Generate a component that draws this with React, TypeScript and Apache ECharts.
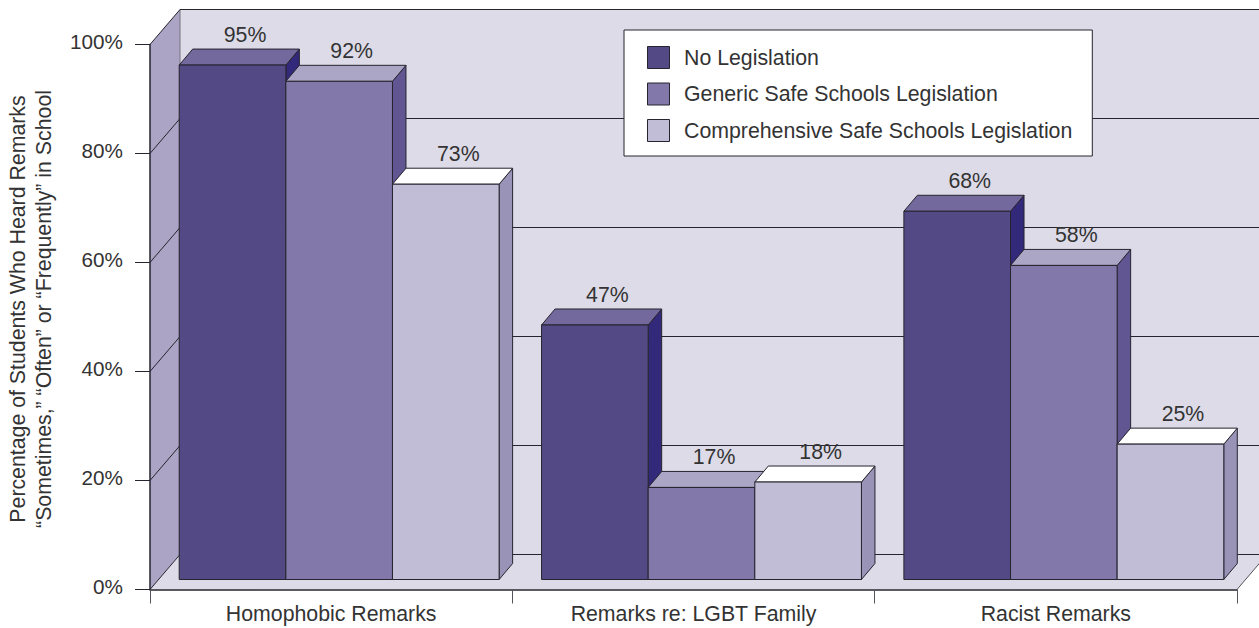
import React, { useEffect, useRef } from "react";
import * as echarts from "echarts";

const categories = ["Homophobic Remarks", "Remarks re: LGBT Family", "Racist Remarks"];
const noLegislation = [95, 47, 68];
const genericLegislation = [92, 17, 58];
const comprehensiveLegislation = [73, 18, 25];
const yTicks = [0, 20, 40, 60, 80, 100];
const yTitle = "Percentage of Students Who Heard Remarks\n“Sometimes,” “Often” or “Frequently” in School";

const FONT = '"Liberation Sans", Arial, sans-serif';
const FS = 21.3;
const TEXT = "#333333";
const LINE = "#26242e";

const barSeries = [
  { name: "No Legislation", values: noLegislation, front: "#534a85", top: "#74699c", side: "#33297a" },
  { name: "Generic Safe Schools Legislation", values: genericLegislation, front: "#8278a9", top: "#aba5c6", side: "#615692" },
  { name: "Comprehensive Safe Schools Legislation", values: comprehensiveLegislation, front: "#c2bdd6", top: "#ffffff", side: "#9a93b8" },
];

const DEPTH_X = 13.5;
const DEPTH_Y = 16;
const WALL_X = 30;
const WALL_Y = 35;

function wallItem(params: any, api: any) {
  const tick = api.value(1);
  const p = api.coord([0, tick]);
  const cs = params.coordSys;
  const left = cs.x;
  const right = cs.x + cs.width;
  const top = cs.y;
  const bottom = cs.y + cs.height;
  const children: any[] = [];
  if (params.dataIndex === 0) {
    children.push(
      { type: "polygon", shape: { points: [[left + WALL_X, top - WALL_Y], [right + WALL_X, top - WALL_Y], [right + WALL_X, bottom - WALL_Y], [left + WALL_X, bottom - WALL_Y]] }, style: { fill: "#dddbe8" } },
      { type: "polygon", shape: { points: [[left, top], [left + WALL_X, top - WALL_Y], [left + WALL_X, bottom - WALL_Y], [left, bottom]] }, style: { fill: "#aba4c5" } },
      { type: "polygon", shape: { points: [[left, bottom], [left + WALL_X, bottom - WALL_Y], [right + WALL_X, bottom - WALL_Y], [right, bottom]] }, style: { fill: "#dddbe8" } },
      { type: "line", shape: { x1: left + WALL_X, y1: top - WALL_Y, x2: left + WALL_X, y2: bottom - WALL_Y }, style: { stroke: "#77757f", lineWidth: 1 } },
      { type: "line", shape: { x1: right, y1: bottom, x2: right + WALL_X, y2: bottom - WALL_Y }, style: { stroke: "#55535c", lineWidth: 1 } }
    );
  }
  children.push({
    type: "polyline",
    shape: { points: [[left, p[1]], [left + WALL_X, p[1] - WALL_Y], [right + WALL_X, p[1] - WALL_Y]] },
    style: { fill: "none", stroke: LINE, lineWidth: 1 },
  });
  return { type: "group", children };
}

function makeBarItem(seriesIndex: number) {
  const s = barSeries[seriesIndex];
  return (_params: any, api: any) => {
    const cat = api.value(0);
    const v = api.value(1);
    const c = api.coord([cat, v]);
    const base = api.coord([cat, 0]);
    const band = api.size([1, 0])[0];
    const w = band * 0.2943;
    const x0 = c[0] + (seriesIndex - 1.5) * w;
    const x1 = x0 + w;
    const y0 = c[1];
    const y1 = base[1];
    const border = { stroke: LINE, lineWidth: 1 };
    return {
      type: "group",
      children: [
        { type: "polygon", shape: { points: [[x1, y0], [x1 + DEPTH_X, y0 - DEPTH_Y], [x1 + DEPTH_X, y1 - DEPTH_Y], [x1, y1]] }, style: { fill: s.side, ...border } },
        { type: "polygon", shape: { points: [[x0, y0], [x0 + DEPTH_X, y0 - DEPTH_Y], [x1 + DEPTH_X, y0 - DEPTH_Y], [x1, y0]] }, style: { fill: s.top, ...border } },
        { type: "rect", shape: { x: x0, y: y0, width: w, height: y1 - y0 }, style: { fill: s.front, ...border } },
        { type: "text", style: { text: v + "%", x: x0 + w / 2 + DEPTH_X - 1, y: y0 - 30, align: "center", verticalAlign: "middle", fill: TEXT, fontSize: FS, fontFamily: FONT } },
      ],
    };
  };
}

export default function App() {
  const ref = useRef<HTMLDivElement>(null);
  useEffect(() => {
    const chart = echarts.init(ref.current!, undefined, { renderer: "svg" });
    chart.setOption({
      animation: false,
      backgroundColor: "#ffffff",
      textStyle: { fontFamily: FONT, color: TEXT },
      grid: [
        { left: 150, top: 44.5, width: 1087, height: 545, outerBoundsMode: "none", containLabel: false },
        { left: 158, top: 38, width: 1087, height: 541.5, outerBoundsMode: "none", containLabel: false },
      ],
      xAxis: [
        {
          type: "category", gridIndex: 0, data: categories, z: 3,
          axisLine: { show: true, lineStyle: { color: LINE, width: 1.5 } },
          axisTick: { show: true, alignWithLabel: false, length: 14, lineStyle: { color: "#55535c", width: 1 } },
          axisLabel: { color: TEXT, fontSize: FS, margin: 14, fontFamily: FONT, interval: 0 },
        },
        { type: "category", gridIndex: 1, data: categories, show: false },
      ],
      yAxis: [
        {
          type: "value", gridIndex: 0, min: 0, max: 100, interval: 20, z: 3,
          axisLine: { show: true, lineStyle: { color: LINE, width: 1.5 } },
          axisTick: { show: true, length: 15, lineStyle: { color: LINE, width: 1 } },
          axisLabel: { color: TEXT, fontSize: 20.7, margin: 27, formatter: "{value}%", fontFamily: FONT, verticalAlign: "bottom", lineHeight: 6 },
          splitLine: { show: false },
          name: yTitle,
          nameLocation: "middle",
          nameRotate: 90,
          nameGap: 93,
          nameTextStyle: { color: TEXT, fontSize: FS, lineHeight: 26, fontFamily: FONT, padding: [0, 0, 0, 16] },
        },
        { type: "value", gridIndex: 1, min: 0, max: 100, show: false, splitLine: { show: false } },
      ],
      legend: {
        show: true,
        data: barSeries.map((s) => s.name),
        orient: "vertical",
        left: 624,
        top: 30,
        padding: [16, 20, 14, 23],
        itemWidth: 22,
        itemHeight: 22,
        itemGap: 13.5,
        icon: "rect",
        backgroundColor: "#ffffff",
        borderColor: LINE,
        borderWidth: 1,
        selectedMode: false,
        itemStyle: { borderColor: LINE, borderWidth: 1 },
        textStyle: { color: TEXT, fontSize: FS, fontFamily: FONT, padding: [0, 0, 0, 9.5] },
      },
      series: [
        {
          type: "custom", name: "walls", xAxisIndex: 0, yAxisIndex: 0, z: 1, silent: true,
          encode: { x: 0, y: 1 },
          data: yTicks.map((t) => [0, t]),
          renderItem: wallItem,
        },
        ...barSeries.map((s, i) => ({
          type: "custom", name: s.name, xAxisIndex: 1, yAxisIndex: 1, z: 2,
          itemStyle: { color: s.front },
          encode: { x: 0, y: 1 },
          data: s.values.map((v, c) => [c, v]),
          renderItem: makeBarItem(i),
        })),
      ],
    });
    return () => chart.dispose();
  }, []);
  return <div ref={ref} style={{ position: "fixed", left: 0, top: 0, width: 1259, height: 628 }} />;
}
